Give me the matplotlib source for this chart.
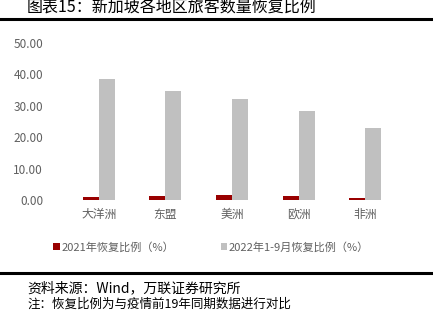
import matplotlib.pyplot as plt
import numpy as np

plt.rcParams['font.family'] = ['Noto Sans CJK SC', 'DejaVu Sans']

categories = ['大洋洲', '东盟', '美洲', '欧洲', '非洲']
ratio_2021 = [0.9, 1.4, 1.5, 1.4, 0.7]
ratio_2022 = [38.5, 34.8, 32.2, 28.2, 22.9]
series_names = ['2021年恢复比例（%）', '2022年1-9月恢复比例（%）']
colors = ['#990000', '#C0C0C0']

fig = plt.figure(figsize=(4.33, 3.11), dpi=100)
ax = fig.add_axes([65.3 / 433, 1 - 200 / 311, 333.4 / 433, 157 / 311])

x = np.arange(len(categories))
w = 0.24
b1 = ax.bar(x - w / 2, ratio_2021, w, color=colors[0], label=series_names[0])
b2 = ax.bar(x + w / 2, ratio_2022, w, color=colors[1], label=series_names[1])

ax.set_xlim(-0.5, len(categories) - 0.5)
ax.set_ylim(0, 50)
ax.set_yticks(np.arange(0, 51, 10))
ax.set_yticklabels([f'{v:.2f}' for v in range(0, 51, 10)])
ax.set_xticks(x)
ax.set_xticklabels(categories)
ax.tick_params(axis='both', length=0, labelsize=8.5, colors='#606060')
ax.tick_params(axis='y', pad=16)
ax.tick_params(axis='x', pad=6)
for s in ax.spines.values():
    s.set_visible(False)

fig.legend(handles=[b1, b2], labels=series_names, loc='center',
           bbox_to_anchor=(211 / 433, 1 - 247 / 311), ncol=2, frameon=False,
           fontsize=8, handlelength=0.6, handleheight=0.6, handletextpad=0.1,
           columnspacing=4.2, labelcolor='#606060')

# title and rules
fig.text(27 / 433, 1 - 8 / 311, '图表15：新加坡各地区旅客数量恢复比例',
         fontsize=11.5, va='center', ha='left')
fig.add_artist(plt.Line2D([0, 1], [1 - 19 / 311] * 2, color='black', lw=2.2))
fig.add_artist(plt.Line2D([0, 1], [1 - 273 / 311] * 2, color='black', lw=2.2))
fig.text(27 / 433, 1 - 288 / 311, '资料来源：Wind，万联证券研究所',
         fontsize=10, va='center', ha='left', style='italic')
fig.text(27 / 433, 1 - 304 / 311, '注：恢复比例为与疫情前19年同期数据进行对比',
         fontsize=9, va='center', ha='left', style='italic')

fig.savefig('out.png', dpi=100)
